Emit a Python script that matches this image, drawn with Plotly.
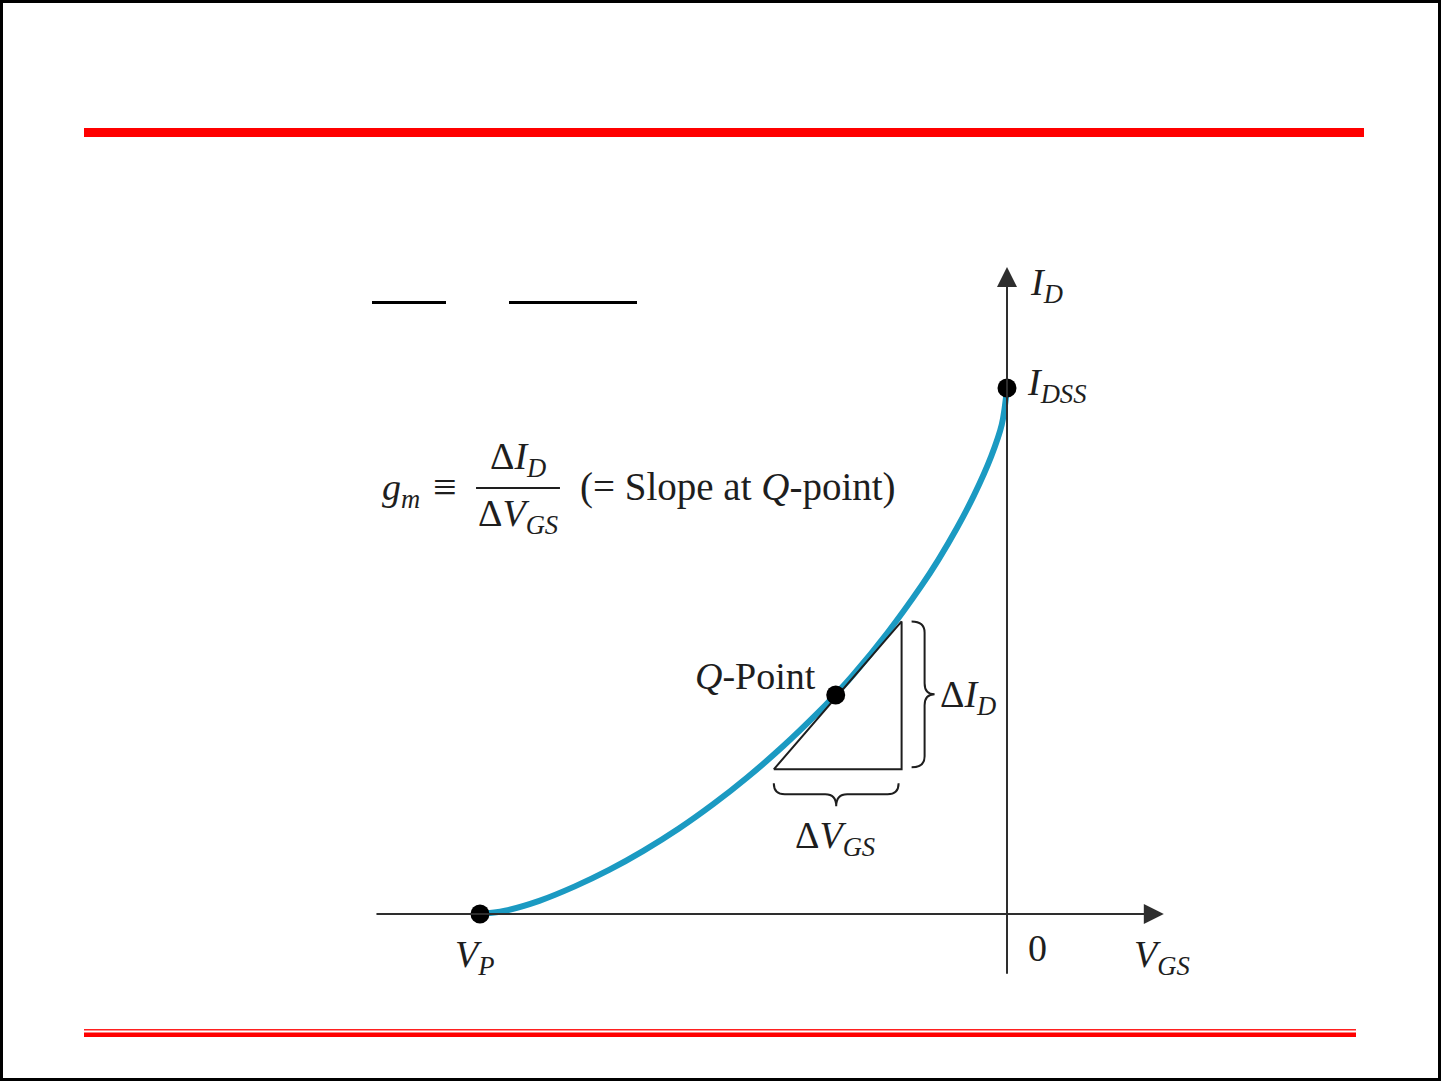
import plotly.graph_objects as go

# ---------------- data (VGS in V, ID in mA, JFET transfer curve) ----
vgs_curve = [-4.00, -3.81, -3.55, -3.28, -3.02, -2.76, -2.49, -2.23, -1.97, -1.70,
             -1.44, -1.31, -1.17, -0.91, -0.65, -0.52, -0.38, -0.25, -0.12, -0.04, 0.00]
id_curve = [0.00, 0.05, 0.20, 0.42, 0.67, 0.96, 1.30, 1.67, 2.08, 2.55,
            3.05, 3.32, 3.63, 4.27, 4.99, 5.39, 5.87, 6.37, 6.96, 7.44, 8.00]

point_names = ["VP", "Q", "IDSS"]
point_vgs = [-4.0, -1.30, 0.0]
point_id = [0.0, 3.33, 8.0]

tangent_vgs = [-1.77, -0.80]
tangent_id = [2.20, 4.45]

# ---------------- scales ----------------
W, H = 1441, 1081
X_RANGE = [-7.643, 3.294]
Y_RANGE = [-2.540, 13.901]
SX = W / (X_RANGE[1] - X_RANGE[0])   # px per V
SY = H / (Y_RANGE[1] - Y_RANGE[0])   # px per mA


def dx(px):
    return px / SX


def dy(px):
    return px / SY


SERIF = "Liberation Serif, Times New Roman, serif"
INK = "#1e1e1e"
AXIS = "#2e2e2e"
CURVE = "#1b9ac2"

fig = go.Figure()

# transfer curve
fig.add_trace(go.Scatter(x=vgs_curve, y=id_curve, mode="lines",
                         line=dict(color=CURVE, width=6, shape="spline", smoothing=1.0),
                         hoverinfo="skip", showlegend=False))

# tangent / slope triangle
tri_x = [tangent_vgs[0], tangent_vgs[1], tangent_vgs[1], tangent_vgs[0]]
tri_y = [tangent_id[0], tangent_id[1], tangent_id[0], tangent_id[0]]
fig.add_trace(go.Scatter(x=tri_x, y=tri_y, mode="lines",
                         line=dict(color=INK, width=2),
                         hoverinfo="skip", showlegend=False))

# points
fig.add_trace(go.Scatter(x=point_vgs, y=point_id, mode="markers",
                         marker=dict(color="black", size=19),
                         hoverinfo="skip", showlegend=False))

shapes = []


# braces
def vbrace(x0, yb, yt, depth=13, tip=10, r=11):
    xd = x0 + dx(depth)
    xt = xd + dx(tip)
    ym = (yb + yt) / 2
    rr = dy(r)
    return (f"M {x0},{yt} Q {xd},{yt} {xd},{yt - rr} L {xd},{ym + rr} "
            f"Q {xd},{ym} {xt},{ym} Q {xd},{ym} {xd},{ym - rr} "
            f"L {xd},{yb + rr} Q {xd},{yb} {x0},{yb}")


def hbrace(y0, xl, xr, depth=11, tip=12, r=11):
    yd = y0 - dy(depth)
    yt = yd - dy(tip)
    xm = (xl + xr) / 2
    rr = dx(r)
    return (f"M {xl},{y0} Q {xl},{yd} {xl + rr},{yd} L {xm - rr},{yd} "
            f"Q {xm},{yd} {xm},{yt} Q {xm},{yd} {xm + rr},{yd} "
            f"L {xr - rr},{yd} Q {xr},{yd} {xr},{y0}")


shapes.append(dict(type="path", xref="x", yref="y",
                   path=vbrace(tangent_vgs[1] + dx(10), tangent_id[0] + dy(2), tangent_id[1]),
                   line=dict(color=INK, width=2)))
shapes.append(dict(type="path", xref="x", yref="y",
                   path=hbrace(tangent_id[0] - dy(14), tangent_vgs[0], tangent_vgs[1] - dx(3)),
                   line=dict(color=INK, width=2)))

# fraction bar of the g_m definition
shapes.append(dict(type="line", xref="x", yref="y",
                   x0=-4.03, x1=-3.393, y0=6.479, y1=6.479,
                   line=dict(color=INK, width=2)))


# slide decorations (paper coords)
def py(p):
    return 1 - p / H


def px(p):
    return p / W


shapes.append(dict(type="rect", xref="paper", yref="paper",
                   x0=px(84), x1=px(1364), y0=py(137), y1=py(128),
                   fillcolor="#ff0000", line=dict(width=0)))
shapes.append(dict(type="rect", xref="paper", yref="paper",
                   x0=px(84), x1=px(1356), y0=py(1030.5), y1=py(1029),
                   fillcolor="#ff2020", line=dict(width=0)))
shapes.append(dict(type="rect", xref="paper", yref="paper",
                   x0=px(84), x1=px(1356), y0=py(1037), y1=py(1032.5),
                   fillcolor="#ff0000", line=dict(width=0)))
shapes.append(dict(type="line", xref="paper", yref="paper",
                   x0=px(372), x1=px(446), y0=py(302.5), y1=py(302.5),
                   line=dict(color="black", width=3)))
shapes.append(dict(type="line", xref="paper", yref="paper",
                   x0=px(509), x1=px(637), y0=py(302.5), y1=py(302.5),
                   line=dict(color="black", width=3)))
shapes.append(dict(type="rect", xref="paper", yref="paper",
                   x0=0, x1=1, y0=0, y1=1,
                   line=dict(color="black", width=6)))

annotations = []

# axes with arrows
annotations.append(dict(x=1.19, y=0, ax=-4.797, ay=0, xref="x", yref="y",
                        axref="x", ayref="y", text="", showarrow=True,
                        arrowhead=2, arrowsize=2.0, arrowwidth=2, arrowcolor=AXIS))
annotations.append(dict(x=0, y=9.84, ax=0, ay=-0.93, xref="x", yref="y",
                        axref="x", ayref="y", text="", showarrow=True,
                        arrowhead=2, arrowsize=2.0, arrowwidth=2, arrowcolor=AXIS))


def label(x, y, text, xanchor="center", size=38):
    annotations.append(dict(x=x, y=y, xref="x", yref="y", text=text,
                            showarrow=False, xanchor=xanchor, yanchor="middle",
                            font=dict(family=SERIF, size=size, color=INK)))


label(0.16, 9.57, "<i>I<sub>D</sub></i>", xanchor="left")
label(0.14, 8.05, "<i>I<sub>DSS</sub></i>", xanchor="left")
label(-4.76, 6.45, "<i>g<sub>m</sub></i>", xanchor="left")
label(-4.266, 6.50, "≡", size=42)
label(-3.712, 6.92, "Δ<i>I<sub>D</sub></i>")
label(-3.712, 6.05, "Δ<i>V<sub>GS</sub></i>")
label(-3.256, 6.50, "(= Slope at <i>Q</i>-point)", xanchor="left", size=39)
label(-1.434, 3.62, "<i>Q</i>-Point", xanchor="right")
label(-0.52, 3.30, "Δ<i>I<sub>D</sub></i>", xanchor="left")
label(-1.306, 1.15, "Δ<i>V<sub>GS</sub></i>")
label(-4.038, -0.66, "<i>V<sub>P</sub></i>")
label(0.228, -0.52, "0")
label(1.176, -0.66, "<i>V<sub>GS</sub></i>")

fig.update_layout(
    width=W, height=H,
    margin=dict(l=0, r=0, t=0, b=0),
    paper_bgcolor="white", plot_bgcolor="white",
    xaxis=dict(range=X_RANGE, visible=False, fixedrange=True),
    yaxis=dict(range=Y_RANGE, visible=False, fixedrange=True),
    shapes=shapes, annotations=annotations,
    showlegend=False,
)

fig.write_html("out.html", config={"displayModeBar": False},
               post_script="document.body.style.margin='0px';")
